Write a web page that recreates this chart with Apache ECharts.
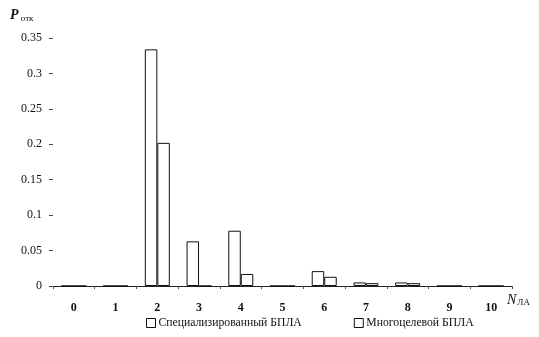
<!DOCTYPE html>
<html><head><meta charset="utf-8">
<script src="https://cdn.jsdelivr.net/npm/echarts@6/dist/echarts.min.js"></script>
<style>html,body{margin:0;padding:0;background:#fff}#c{width:539px;height:337px}</style>
</head><body><div id="c"></div>
<script>
const categories = ['0','1','2','3','4','5','6','7','8','9','10'];
const specialized = [0, 0, 0.334, 0.063, 0.078, 0, 0.021, 0.005, 0.005, 0, 0];
const multipurpose = [0, 0, 0.202, 0, 0.017, 0, 0.013, 0.004, 0.004, 0, 0];
const seriesNames = ['Специализированный БПЛА', 'Многоцелевой БПЛА'];
const yTicks = [0, 0.05, 0.1, 0.15, 0.2, 0.25, 0.3, 0.35];

const font = '"Liberation Serif", "DejaVu Serif", serif';
const chart = echarts.init(document.getElementById('c'));
const barStyle = {color: '#fff', borderColor: '#111', borderWidth: 1};
chart.setOption({
  animation: false,
  backgroundColor: '#fff',
  grid: {left: 53, right: 27, top: 38, bottom: 51},
  legend: {
    bottom: 3, left: 141, itemGap: 52, itemWidth: 9, itemHeight: 9,
    icon: 'rect',
    textStyle: {fontFamily: font, fontSize: 11.7, color: '#111', padding: [0,0,0,-2]},
    data: seriesNames.map(n => ({name: n, itemStyle: barStyle}))
  },
  xAxis: {
    type: 'category', data: categories,
    axisLine: {lineStyle: {color: '#222', width: 1}},
    axisTick: {show: true, length: 3, lineStyle: {color: '#555'}},
    axisLabel: {fontFamily: font, fontSize: 12, color: '#111', margin: 16, fontWeight: 'bold'}
  },
  yAxis: {
    type: 'value', min: 0, max: 0.35, interval: 0.05,
    splitLine: {show: false},
    axisLine: {show: false},
    axisTick: {show: true, inside: false, length: 4, lineStyle: {color: '#444'}},
    axisLabel: {fontFamily: font, fontSize: 12, color: '#111', margin: 11,
      formatter: v => { const t = yTicks.find(x => Math.abs(x - v) < 1e-9); return t === undefined ? '' : String(t); }}
  },
  series: [
    {name: seriesNames[0], type: 'bar', data: specialized, barWidth: 12.5, barGap: '0%', itemStyle: barStyle},
    {name: seriesNames[1], type: 'bar', data: multipurpose, barWidth: 12.5, barGap: '0%', itemStyle: barStyle}
  ],
  graphic: [
    {type: 'text', left: 10, top: 8, style: {
      text: '{p|P}{s| отк}', rich: {
        p: {fontFamily: font, fontSize: 14, fontStyle: 'italic', fontWeight: 'bold', fill: '#111'},
        s: {fontFamily: font, fontSize: 9, fill: '#111', padding: [7,0,0,0]}
      }}},
    {type: 'text', left: 507, top: 293, style: {
      text: '{p|N}{s|ЛА}', rich: {
        p: {fontFamily: font, fontSize: 14, fontStyle: 'italic', fill: '#111'},
        s: {fontFamily: font, fontSize: 9, fill: '#111', padding: [6,0,0,1]}
      }}}
  ]
});
</script></body></html>
